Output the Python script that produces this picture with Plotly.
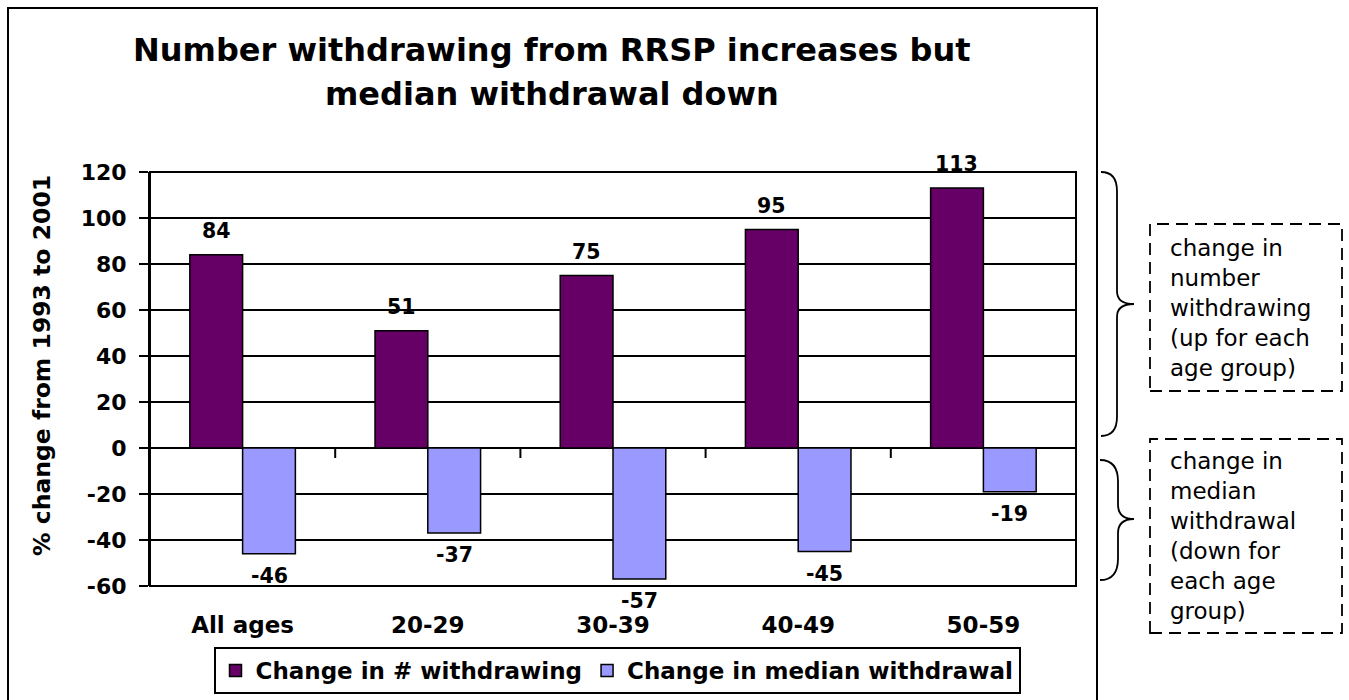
import plotly.graph_objects as go

# ---- data -----------------------------------------------------------------
age_groups = ["All ages", "20-29", "30-39", "40-49", "50-59"]
change_withdrawing = [84, 51, 75, 95, 113]
change_median = [-46, -37, -57, -45, -19]
series_names = ["Change in # withdrawing", "Change in median withdrawal"]
y_ticks = [-60, -40, -20, 0, 20, 40, 60, 80, 100, 120]
y_tick_labels = [str(v) for v in y_ticks]

title_lines = ["Number withdrawing from RRSP increases but", "median withdrawal down"]
y_title = "% change from 1993 to 2001"
note_up = ["change in", "number", "withdrawing", "(up for each", "age group)"]
note_down = ["change in", "median", "withdrawal", "(down for", "each age", "group)"]

# ---- geometry -------------------------------------------------------------
W, H = 1349, 700
L, T, R, B = 150, 172, 1076, 586   # plot area in page pixels
PW, PH = R - L, B - T

FONT = "DejaVu Sans, Verdana, sans-serif"
PURPLE = "#660066"
LAVENDER = "#9999FF"


def px(x):
    return (x - L) / PW


def py(y):
    return (B - y) / PH


fig = go.Figure()
fig.add_trace(go.Bar(x=age_groups, y=change_withdrawing, name=series_names[0],
                     marker=dict(color=PURPLE, line=dict(color="black", width=1.5))))
fig.add_trace(go.Bar(x=age_groups, y=change_median, name=series_names[1],
                     marker=dict(color=LAVENDER, line=dict(color="black", width=1.5))))

annotations = []
# value labels above / below each bar
for vals, dx in ((change_withdrawing, -26.5), (change_median, 26.5)):
    for cat, v in zip(age_groups, vals):
        annotations.append(dict(x=cat, y=v, xref="x", yref="y", text=str(v),
                                showarrow=False, xshift=dx, yshift=24 if v > 0 else -22,
                                yanchor="middle",
                                font=dict(family=FONT, size=20.5, color="black",
                                          weight="bold")))

# title, two centred lines
for text, yy in zip(title_lines, (50, 94)):
    annotations.append(dict(x=px(552), y=py(yy), xref="paper", yref="paper",
                            text=text, showarrow=False,
                            xanchor="center", yanchor="middle",
                            font=dict(family=FONT, size=32, color="black",
                                      weight="bold")))

# vertical axis title
annotations.append(dict(x=px(42), y=py(366), xref="paper", yref="paper",
                        text=y_title, showarrow=False, textangle=-90,
                        xanchor="center", yanchor="middle",
                        font=dict(family=FONT, size=23.5, color="black",
                                  weight="bold")))

# side notes inside dashed boxes
for lines, (y0, y1) in ((note_up, (224, 391)), (note_down, (439, 633))):
    annotations.append(dict(x=px(1168), y=py((y0 + y1) / 2), xref="paper", yref="paper",
                            text="<br>".join(lines), showarrow=False, align="left",
                            xanchor="left", yanchor="middle",
                            font=dict(family=FONT, size=23, color="black")))

shapes = []
# outer chart frame
shapes.append(dict(type="rect", xref="paper", yref="paper",
                   x0=px(8), x1=px(1097), y0=py(712), y1=py(8),
                   line=dict(color="black", width=2), layer="below"))
# plot-area border
shapes.append(dict(type="rect", xref="paper", yref="paper", x0=0, x1=1, y0=0, y1=1,
                   line=dict(color="black", width=2)))
# category tick marks hanging from the zero line
for i in range(1, len(age_groups)):
    shapes.append(dict(type="line", xref="x", yref="y", x0=i - 0.5, x1=i - 0.5,
                       ysizemode="pixel", yanchor=0, y0=0, y1=-10,
                       line=dict(color="black", width=2)))


def brace(x_back, x_mid, x_tip, y_top, y_bot, y_tip):
    """Right-pointing curly brace as an SVG path in paper coordinates."""
    r = x_mid - x_back
    pts = [
        ("M", (x_back, y_top)),
        ("Q", (x_mid, y_top), (x_mid, y_top + r * 1.2)),
        ("L", (x_mid, y_tip - r * 0.8)),
        ("Q", (x_mid, y_tip), (x_tip, y_tip)),
        ("Q", (x_mid, y_tip), (x_mid, y_tip + r * 0.8)),
        ("L", (x_mid, y_bot - r * 1.2)),
        ("Q", (x_mid, y_bot), (x_back, y_bot)),
    ]
    out = []
    for cmd, *coords in pts:
        out.append(cmd + " ".join(f"{px(a):.5f},{py(b):.5f}" for a, b in coords))
    return " ".join(out)


shapes.append(dict(type="path", xref="paper", yref="paper",
                   path=brace(1101, 1117, 1134, 172, 436, 304),
                   line=dict(color="black", width=1.8)))
shapes.append(dict(type="path", xref="paper", yref="paper",
                   path=brace(1100, 1118, 1134, 460, 580, 519),
                   line=dict(color="black", width=1.8)))

# dashed note boxes
for y0, y1 in ((224, 391), (439, 633)):
    shapes.append(dict(type="rect", xref="paper", yref="paper",
                       x0=px(1150), x1=px(1342), y0=py(y1), y1=py(y0),
                       line=dict(color="black", width=1.8, dash="12px,7px")))

fig.update_layout(
    width=W, height=H,
    margin=dict(l=L, r=W - R, t=T, b=H - B, pad=0, autoexpand=False),
    paper_bgcolor="white", plot_bgcolor="white",
    barmode="group", bargap=0.43, bargroupgap=0,
    showlegend=True,
    legend=dict(orientation="h", x=px(617), y=py(647), xanchor="center", yanchor="top",
                bgcolor="white", bordercolor="black", borderwidth=2,
                font=dict(family=FONT, size=23, color="black", weight="bold"),
                itemwidth=30, tracegroupgap=0),
    font=dict(family=FONT, color="black"),
    xaxis=dict(type="category", categoryorder="array", categoryarray=age_groups,
               showgrid=False, showline=False, ticks="", zeroline=False,
               automargin=False,
               tickfont=dict(family=FONT, size=23, color="black", weight="bold"),
               ticklabelstandoff=23),
    yaxis=dict(range=[-60, 120], tickvals=y_ticks, ticktext=y_tick_labels,
               showgrid=True, gridcolor="black", gridwidth=2, automargin=False,
               zeroline=True, zerolinecolor="black", zerolinewidth=2,
               showline=True, linecolor="black", linewidth=2,
               ticks="outside", ticklen=9, tickwidth=2, tickcolor="black",
               tickfont=dict(family=FONT, size=22, color="black", weight="bold"),
               ticklabelstandoff=8),
    annotations=annotations,
    shapes=shapes,
)

fig.write_html("out.html")
